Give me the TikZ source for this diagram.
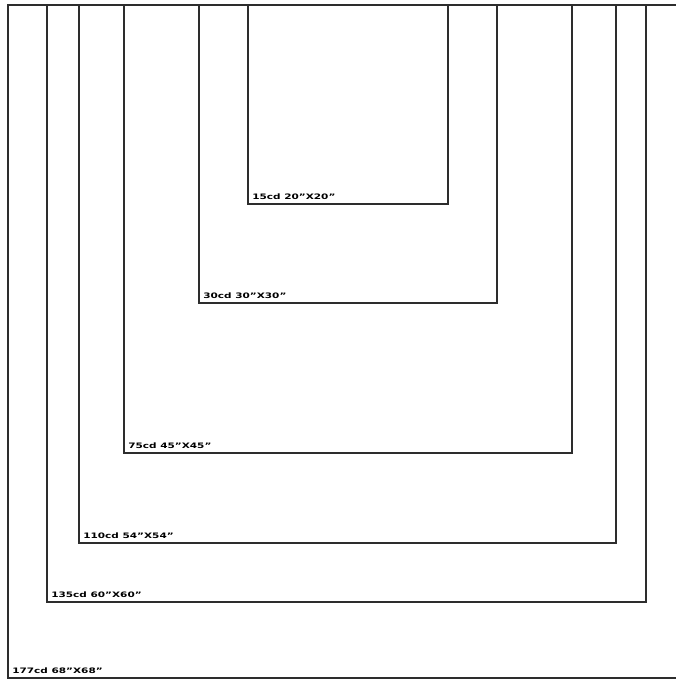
\documentclass[tikz,border=0pt]{standalone}
\usepackage{fontspec}
\setsansfont{DejaVu Sans}
\usetikzlibrary{positioning}
\definecolor{frameInk}{RGB}{45,45,45}

\begin{document}
\begin{tikzpicture}[x=1pt, y=-1pt,
      frame/.style={draw=frameInk, line width=1.2pt},
      size/.style={anchor=south west, inner sep=0pt, xscale=1.4, font=\fontsize{7.5}{8}\selectfont\sffamily\bfseries}
    ]
    \clip (0,0) rectangle (676,681);
    % nested boxes, all sharing the top edge
    \draw[frame] (8,5) rectangle (690,678);
    \draw[frame] (47,5) rectangle (646,602);
    \draw[frame] (79,5) rectangle (616,543);
    \draw[frame] (124,5) rectangle (572,453);
    \draw[frame] (199,5) rectangle (497,303);
    \draw[frame] (248,5) rectangle (448,204);

    \coordinate (c177) at (12,674);
    \coordinate (c135) at (51,598);
    \coordinate (c110) at (83,539);
    \coordinate (c75) at (128,449);
    \coordinate (c30) at (203,299);
    \coordinate (c15) at (252,200);

    \node[size] (l177) at (c177) {177cd 68"X68"};
    \node[size] (l135) at (c135) {135cd 60"X60"};
    \node[size] (l110) at (c110) {110cd 54"X54"};
    \node[size] (l75) at (c75) {75cd 45"X45"};
    \node[size] (l30) at (c30) {30cd 30"X30"};
    \node[size] (l15) at (c15) {15cd 20"X20"};
  \end{tikzpicture}
\end{document}
